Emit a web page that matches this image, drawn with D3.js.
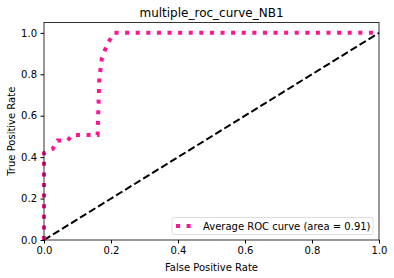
<!DOCTYPE html>
<html>
<head>
<meta charset="utf-8">
<script src="https://cdn.jsdelivr.net/npm/d3@7"></script>
<style>
  body { margin: 0; background: #fff; }
  svg text { font-family: "DejaVu Sans", sans-serif; fill: #000; }
</style>
</head>
<body>
<div id="chart"></div>
<script>
// ROC curve
var fpr = [0, 0, 0.026, 0.04, 0.07, 0.085, 0.16, 0.165, 0.173, 0.19, 0.21, 1];
var tpr = [0, 0.42, 0.44, 0.48, 0.48, 0.507, 0.507, 0.78, 0.88, 0.95, 1.0, 1.0];
var diagonal = [[0, 0], [1, 1]];
var xTicks = [0, 0.2, 0.4, 0.6, 0.8, 1.0];
var yTicks = [0, 0.2, 0.4, 0.6, 0.8, 1.0];
var legendLabel = "Average ROC curve (area = 0.91)";

var margin = {top: 22.5, right: 15, bottom: 38, left: 44},
  width = 394 - margin.left - margin.right,
  height = 278 - margin.top - margin.bottom;

var svg = d3.select("#chart")
  .append("svg")
  .attr("width", 394)
  .attr("height", 278)
  .append("g")
  .attr("transform", "translate(" + margin.left + "," + margin.top + ")");

var x = d3.scaleLinear().domain([0, 1]).range([0, width]);
var y = d3.scaleLinear().domain([0, 1.05]).range([height, 0]);

var line = d3.line().x(d => x(d[0])).y(d => y(d[1]));

// chance line
svg.append("path")
  .datum(diagonal)
  .attr("d", line)
  .attr("fill", "none")
  .attr("stroke", "#000")
  .attr("stroke-width", 2)
  .attr("stroke-dasharray", "7.4,3.2");

// roc curve
var roc = fpr.map((f, i) => [f, tpr[i]]);
svg.append("path")
  .datum(roc)
  .attr("d", line)
  .attr("fill", "none")
  .attr("stroke", "#ff1493")
  .attr("stroke-width", 4)
  .attr("stroke-dasharray", "4,6.6");

// axes
svg.append("g")
  .attr("transform", "translate(0," + height + ")")
  .style("font", "10px 'DejaVu Sans'")
  .call(d3.axisBottom(x).tickValues(xTicks).tickFormat(d3.format(".1f")).tickSize(3.5).tickPadding(3.5))
  .call(g => g.select(".domain").remove());

svg.append("g")
  .style("font", "10px 'DejaVu Sans'")
  .call(d3.axisLeft(y).tickValues(yTicks).tickFormat(d3.format(".1f")).tickSize(3.5).tickPadding(3.5))
  .call(g => g.select(".domain").remove());

// frame
svg.append("rect")
  .attr("width", width)
  .attr("height", height)
  .attr("fill", "none")
  .attr("stroke", "#000")
  .attr("stroke-width", 0.8);

// labels
svg.append("text")
  .attr("x", width / 2)
  .attr("y", -6)
  .attr("text-anchor", "middle")
  .style("font-size", "12px")
  .text("multiple_roc_curve_NB1");

svg.append("text")
  .attr("x", width / 2)
  .attr("y", height + 31)
  .attr("text-anchor", "middle")
  .style("font-size", "10px")
  .text("False Positive Rate");

svg.append("text")
  .attr("transform", "rotate(-90)")
  .attr("x", -height / 2)
  .attr("y", -29)
  .attr("text-anchor", "middle")
  .style("font-size", "10px")
  .text("True Positive Rate");

// legend
var legend = svg.append("g")
  .attr("transform", "translate(" + (width - 207) + "," + (height - 22.5) + ")");

legend.append("rect")
  .attr("width", 201)
  .attr("height", 17)
  .attr("rx", 2)
  .attr("fill", "#fff")
  .attr("fill-opacity", 0.8)
  .attr("stroke", "#d6d6d6")
  .attr("stroke-width", 0.8);

legend.append("line")
  .attr("x1", 4).attr("x2", 24)
  .attr("y1", 8.5).attr("y2", 8.5)
  .attr("stroke", "#ff1493")
  .attr("stroke-width", 4)
  .attr("stroke-dasharray", "4,6.6");

legend.append("text")
  .attr("x", 31)
  .attr("y", 12.3)
  .style("font-size", "10px")
  .text(legendLabel);
</script>
</body>
</html>
